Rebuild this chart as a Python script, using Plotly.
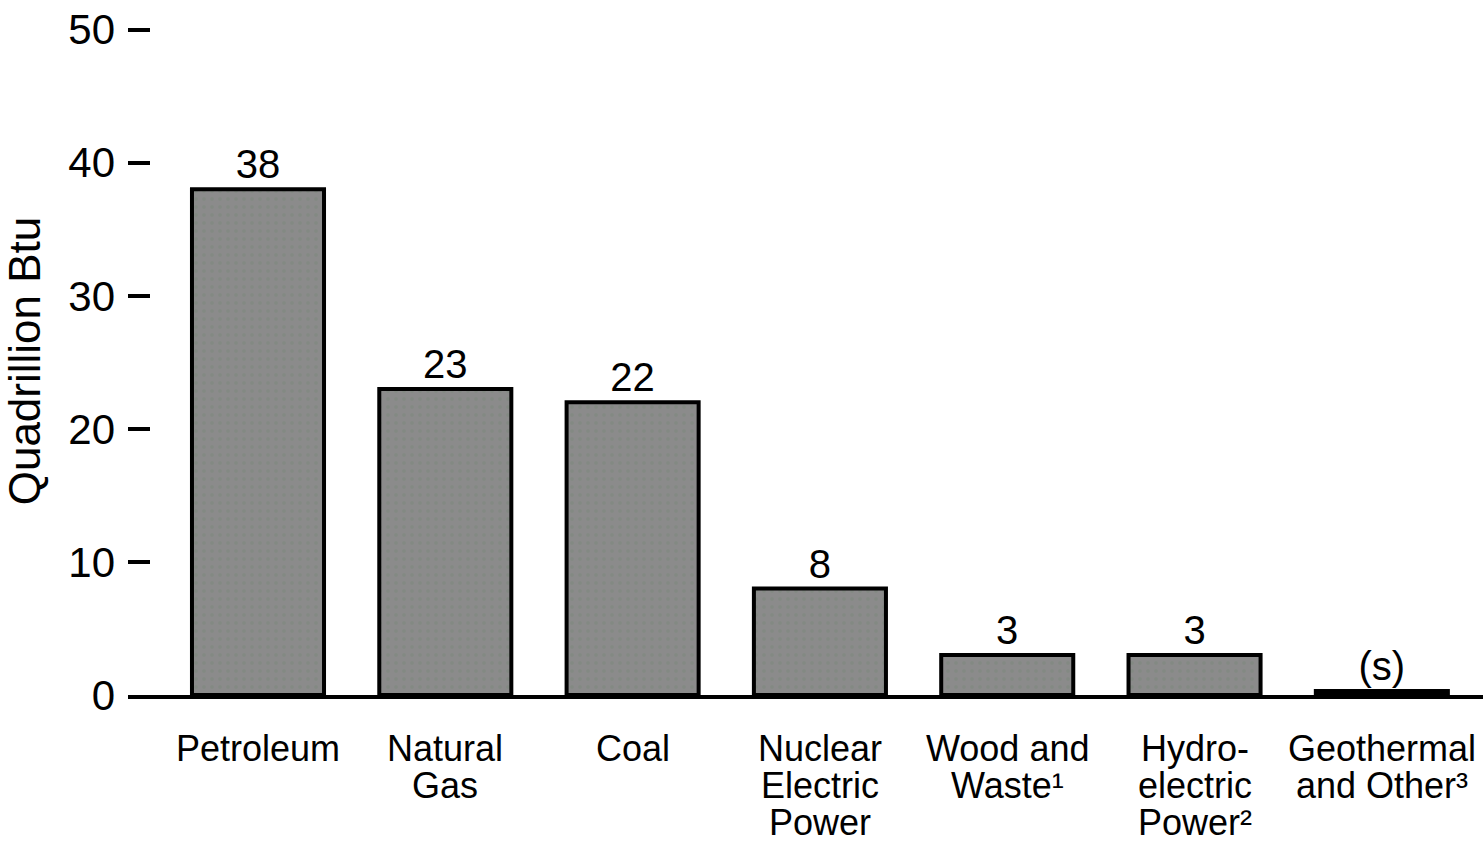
import plotly.graph_objects as go

# Energy consumption by source, quadrillion Btu
categories = [
    "Petroleum",
    "Natural<br>Gas",
    "Coal",
    "Nuclear<br>Electric<br>Power",
    "Wood and<br>Waste¹",
    "Hydro-<br>electric<br>Power²",
    "Geothermal<br>and Other³",
]
values = [38, 23, 22, 8, 3, 3, 0.3]
y_ticks = [0, 10, 20, 30, 40, 50]

FONT = "Liberation Sans, Arial, sans-serif"
x_pos = list(range(len(categories)))
bar_text = [str(int(round(v))) if v >= 0.5 else "(s)" for v in values]

fig = go.Figure()
fig.add_trace(
    go.Bar(
        x=x_pos,
        y=values,
        width=0.705,
        text=bar_text,
        textposition="outside",
        textfont=dict(family=FONT, size=40, color="black"),
        cliponaxis=False,
        marker=dict(
            color="#8b8b8b",
            line=dict(color="black", width=4),
            pattern=dict(shape=".", fgcolor="#7c887c", size=8, solidity=0.2),
        ),
        hoverinfo="skip",
    )
)

# Multi-line category labels with tight line spacing
line_gap = 37
first_offset = 53
annotations = []
for xi, label in zip(x_pos, categories):
    for k, line in enumerate(label.split("<br>")):
        annotations.append(
            dict(
                x=xi,
                y=0,
                xref="x",
                yref="y",
                text=line,
                showarrow=False,
                xanchor="center",
                yanchor="middle",
                yshift=-(first_offset + k * line_gap),
                font=dict(family=FONT, size=36, color="black"),
            )
        )

fig.update_layout(
    width=1483,
    height=842,
    margin=dict(l=128, r=0, t=27, b=147),
    paper_bgcolor="white",
    plot_bgcolor="white",
    showlegend=False,
    annotations=annotations,
    font=dict(family=FONT, color="black"),
)
fig.update_xaxes(
    range=[-0.694, 6.54],
    showticklabels=False,
    ticks="",
    showgrid=False,
    zeroline=False,
    showline=True,
    linecolor="black",
    linewidth=4,
)
fig.update_yaxes(
    range=[0, 50.2],
    tickvals=y_ticks,
    ticktext=[str(t) for t in y_ticks],
    ticks="inside",
    ticklen=22,
    tickwidth=4,
    tickcolor="black",
    ticklabelstandoff=12,
    tickfont=dict(family=FONT, size=42, color="black"),
    showgrid=False,
    zeroline=False,
    showline=False,
    title=dict(
        text="Quadrillion Btu",
        font=dict(family=FONT, size=44, color="black"),
        standoff=14,
    ),
)

fig.write_html("out.html")
